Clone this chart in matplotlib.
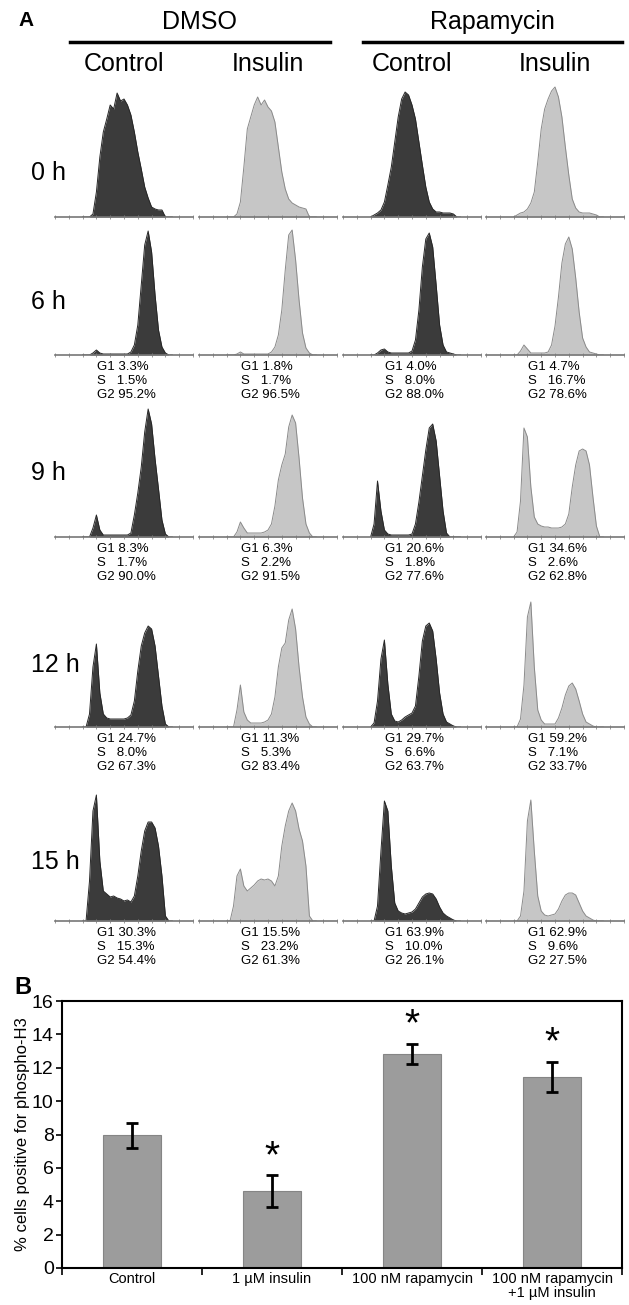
import numpy as np
import matplotlib
matplotlib.use('Agg')
import matplotlib.pyplot as plt
from matplotlib.lines import Line2D

plt.rcParams['font.family'] = ['Liberation Sans', 'DejaVu Sans']

# ---- panel A: DNA content histograms (channel vs. cell count)
channels = list(range(8, 35))
times = ['0 h', '6 h', '9 h', '12 h', '15 h']
groups = ['DMSO', 'Rapamycin']
treatments = ['Control', 'Insulin', 'Control', 'Insulin']

h0_dmso_ctrl = [0,0,0,3,25,60,85,98,112,108,124,116,118,112,102,85,65,48,30,19,10,8,7,7,0,0,0]
h0_dmso_ins  = [0,0,0,3,15,50,88,100,112,120,112,117,110,106,95,70,45,28,18,14,12,10,9,8,0,0,0]
h0_rapa_ctrl = [0,2,4,7,15,32,50,75,100,118,125,122,112,98,75,52,30,15,8,5,5,4,4,4,3,0,0]
h0_rapa_ins  = [0,2,4,5,8,14,25,55,88,108,118,126,130,120,100,70,42,18,9,5,4,4,4,3,2,0,0]

h6_dmso_ctrl = [0,0,0,2,5,2,1,1,1,1,1,1,1,1,3,10,30,70,110,124,103,60,25,8,2,0,0]
h6_dmso_ins  = [0,0,0,1,3,1,1,1,1,1,1,1,1,3,8,20,45,85,120,125,95,55,22,7,2,0,0]
h6_rapa_ctrl = [0,0,2,5,6,3,2,2,2,2,2,2,4,15,45,88,116,122,108,70,30,10,3,2,1,0,0]
h6_rapa_ins  = [0,0,4,10,6,2,2,2,2,2,3,10,29,58,92,111,118,106,77,43,17,8,3,2,1,0,0]

h9_dmso_ctrl = [0,0,0,9,22,7,2,2,2,2,2,2,2,2,4,22,44,70,105,128,113,78,48,17,3,0,0]
h9_dmso_ins  = [0,0,0,5,15,9,4,4,4,4,4,5,7,13,31,57,72,83,110,122,114,79,39,13,4,0,0]
h9_rapa_ctrl = [0,13,56,26,7,3,2,2,2,2,2,2,3,13,35,61,87,109,113,96,61,26,4,0,0,0,0]
h9_rapa_ins  = [0,5,36,109,100,50,20,13,11,10,10,9,9,9,10,13,23,50,72,86,88,86,72,40,11,0,0]

h12_dmso_ctrl = [0,0,13,60,83,34,13,9,8,8,8,8,8,9,12,26,56,81,94,101,98,81,51,21,3,0,0]
h12_dmso_ins  = [0,0,0,17,42,15,7,4,4,4,4,5,7,13,30,60,79,84,107,118,98,60,30,10,3,0,0]
h12_rapa_ctrl = [0,4,26,68,87,43,13,6,5,7,10,12,14,21,51,86,101,104,96,68,34,13,5,3,1,0,0]
h12_rapa_ins  = [0,0,8,42,110,125,60,17,7,3,3,3,3,9,19,32,41,44,38,26,13,5,3,1,0,0,0]

h15_dmso_ctrl = [0,0,40,110,126,60,30,27,24,25,23,22,20,21,19,25,45,70,90,99,99,93,75,45,5,0,0]
h15_dmso_ins  = [0,0,15,45,52,35,30,33,36,40,42,41,42,40,35,45,75,95,110,118,110,92,80,55,5,0,0]
h15_rapa_ctrl = [0,0,15,70,120,110,55,18,10,8,7,8,9,12,18,24,27,28,27,22,14,8,5,3,1,0,0]
h15_rapa_ins  = [0,0,5,30,100,121,70,25,10,6,5,6,7,12,20,26,28,28,26,18,10,5,3,1,0,0,0]

hist_rows = [
    [h0_dmso_ctrl, h0_dmso_ins, h0_rapa_ctrl, h0_rapa_ins],
    [h6_dmso_ctrl, h6_dmso_ins, h6_rapa_ctrl, h6_rapa_ins],
    [h9_dmso_ctrl, h9_dmso_ins, h9_rapa_ctrl, h9_rapa_ins],
    [h12_dmso_ctrl, h12_dmso_ins, h12_rapa_ctrl, h12_rapa_ins],
    [h15_dmso_ctrl, h15_dmso_ins, h15_rapa_ctrl, h15_rapa_ins],
]

# cell cycle distribution (G1, S, G2 %) for 6..15 h
g1 = [[3.3, 1.8, 4.0, 4.7], [8.3, 6.3, 20.6, 34.6], [24.7, 11.3, 29.7, 59.2], [30.3, 15.5, 63.9, 62.9]]
s_ph = [[1.5, 1.7, 8.0, 16.7], [1.7, 2.2, 1.8, 2.6], [8.0, 5.3, 6.6, 7.1], [15.3, 23.2, 10.0, 9.6]]
g2 = [[95.2, 96.5, 88.0, 78.6], [90.0, 91.5, 77.6, 62.8], [67.3, 83.4, 63.7, 33.7], [54.4, 61.3, 26.1, 27.5]]

# ---- panel B: phospho-H3 positive cells
conditions = ['Control', '1 \u00b5M insulin', '100 nM rapamycin', '100 nM rapamycin\n+1 \u00b5M insulin']
ph3_mean = [7.95, 4.6, 12.85, 11.45]
ph3_err = [0.75, 0.95, 0.6, 0.9]
significant = [False, True, True, True]

W, H = 629, 1305
def fx(x):
    return x / W
def fy(y):
    return 1 - y / H

fig = plt.figure(figsize=(W / 100, H / 100), dpi=100)

col_x0 = [55, 199, 343, 486]
cell_w = 138
baselines = [217, 355, 537, 727, 921]
row_label_y = [173, 302, 473, 665, 862]
cell_h = 140
dark = ('#3b3b3b', '#262626')
light = ('#c6c6c6', '#8a8a8a')

for r, row in enumerate(hist_rows):
    for c, counts in enumerate(row):
        ax = fig.add_axes([fx(col_x0[c]), fy(baselines[r]), cell_w / W, cell_h / H])
        ax.patch.set_alpha(0)
        face, edge = dark if c % 2 == 0 else light
        ax.fill_between(channels, counts, color=face, lw=0)
        ax.plot(channels, counts, color=edge, lw=0.7)
        ax.set_xlim(0, 40)
        ax.set_ylim(0, cell_h)
        for sp in ['top', 'right', 'left']:
            ax.spines[sp].set_visible(False)
        ax.spines['bottom'].set_color('#777777')
        ax.spines['bottom'].set_linewidth(1.2)
        ax.set_yticks([])
        ax.set_xticks(np.arange(0, 41, 4))
        ax.tick_params(axis='x', direction='inout', length=3, width=0.6,
                       color='#888888', labelbottom=False)
    fig.text(fx(31), fy(row_label_y[r]), times[r], fontsize=18, ha='left', va='center')
    if r > 0:
        for c in range(4):
            lines = [f'G1 {g1[r-1][c]}%', f'S   {s_ph[r-1][c]}%', f'G2 {g2[r-1][c]}%']
            for k, t in enumerate(lines):
                fig.text(fx(col_x0[c] + 42), fy(baselines[r] + 12 + 14 * k), t,
                         fontsize=9.5, ha='left', va='center')

# headers
fig.text(fx(18), fy(20), 'A', fontsize=15, fontweight='bold', ha='left', va='center')
for g, (x0, x1) in enumerate([(70, 330), (363, 622)]):
    fig.text(fx((x0 + x1) / 2), fy(22), groups[g], fontsize=18, ha='center', va='center')
    fig.add_artist(Line2D([fx(x0), fx(x1)], [fy(42), fy(42)], color='black', lw=2.5))
for c in range(4):
    fig.text(fx(col_x0[c] + cell_w / 2), fy(64), treatments[c], fontsize=18,
             ha='center', va='center')

# ---- panel B
fig.text(fx(14), fy(988), 'B', fontsize=17, fontweight='bold', ha='left', va='center')
axb = fig.add_axes([fx(62), fy(1268), (622 - 62) / W, (1268 - 1001) / H])
x = np.arange(len(conditions))
axb.bar(x, ph3_mean, width=0.42, color='#9c9c9c', edgecolor='#858585', lw=0.8)
axb.errorbar(x, ph3_mean, yerr=ph3_err, fmt='none', ecolor='black',
             elinewidth=2, capsize=4, capthick=2)
for i in range(len(conditions)):
    if significant[i]:
        axb.text(x[i], ph3_mean[i] + ph3_err[i] + 1.1, '*', fontsize=28,
                 ha='center', va='center')
axb.set_xlim(-0.5, 3.5)
axb.set_ylim(0, 16)
axb.set_yticks(range(0, 17, 2))
axb.tick_params(axis='y', labelsize=14, length=4, width=1.2, pad=2)
axb.set_xticks(x)
axb.set_xticklabels(conditions, fontsize=10.5, linespacing=1.0)
axb.tick_params(axis='x', length=0, pad=3)
axb.set_xticks(np.arange(-0.5, 4, 1), minor=True)
axb.tick_params(axis='x', which='minor', length=5, width=1.2)
for sp in axb.spines.values():
    sp.set_linewidth(1.5)
axb.set_ylabel('% cells positive for phospho-H3', fontsize=12, labelpad=1)

fig.savefig('out.png', dpi=100)
